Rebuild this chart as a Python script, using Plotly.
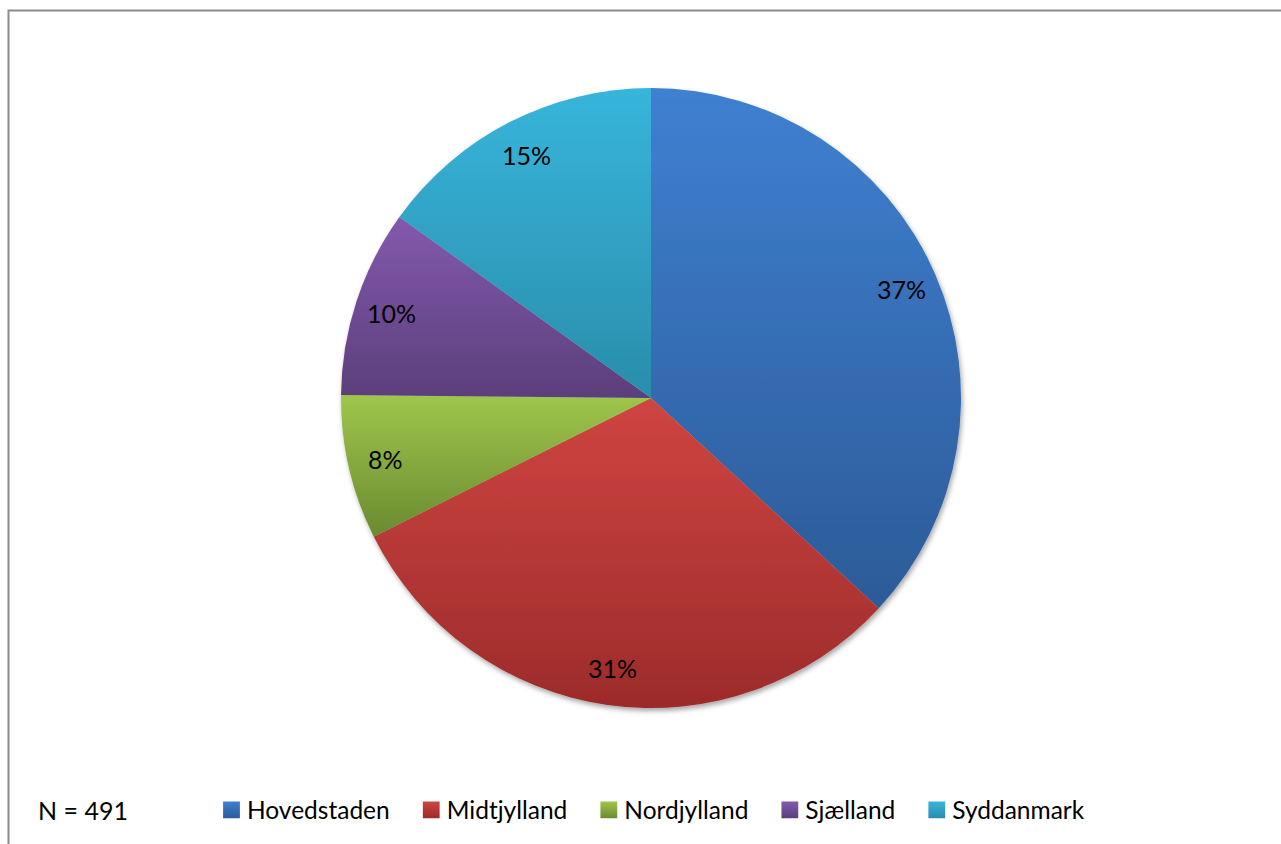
import json
import math
import plotly.graph_objects as go

# Respondents per region (N = 491)
regions = ["Hovedstaden", "Midtjylland", "Nordjylland", "Sjælland", "Syddanmark"]
counts = [181, 151, 37, 48, 74]

# Slice colours: lighter top stop, darker bottom stop (vertical gradient per slice)
colors_top = ["#3F80D1", "#CF4541", "#9FC64C", "#8359AD", "#37B5DB"]
colors_bottom = ["#2C5B98", "#9C2B2B", "#6A8A30", "#5B3F7B", "#2A8DAB"]
colors_mid = ["#366FB6", "#B83837", "#87A93F", "#704D95", "#31A2C4"]

W, H = 1281, 844
CX, CY, R = 651, 398, 310          # pie centre and radius in pixels
LABEL_R = 273                      # radius at which the percentage labels sit
FONT = "Lato, 'Open Sans', sans-serif"

total = sum(counts)

fig = go.Figure(
    go.Pie(
        labels=regions,
        values=counts,
        sort=False,
        direction="clockwise",
        rotation=0,
        textinfo="none",
        hoverinfo="label+value+percent",
        marker=dict(colors=colors_mid, line=dict(width=0)),
        domain=dict(x=[(CX - R) / W, (CX + R) / W],
                    y=[1 - (CY + R) / H, 1 - (CY - R) / H]),
    )
)

# Percentage labels placed at each slice's mid-angle
annotations = []
cum = 0.0
for name, v in zip(regions, counts):
    frac = v / total
    mid = (cum + frac / 2) * 2 * math.pi
    cum += frac
    px = CX + LABEL_R * math.sin(mid)
    py = CY - LABEL_R * math.cos(mid)
    annotations.append(dict(
        x=px / W, y=1 - py / H, xref="paper", yref="paper",
        text=f"{round(frac * 100)}%", showarrow=False,
        font=dict(family=FONT, size=25, color="#000000"),
        xanchor="center", yanchor="middle",
    ))

annotations.append(dict(
    x=36 / W, y=1 - 810 / H, xref="paper", yref="paper",
    text=f"N = {total}", showarrow=False,
    font=dict(family=FONT, size=25, color="#000000"),
    xanchor="left", yanchor="middle",
))

fig.update_layout(
    width=W, height=H,
    margin=dict(l=0, r=0, t=0, b=0),
    paper_bgcolor="#FFFFFF",
    plot_bgcolor="#FFFFFF",
    font=dict(family=FONT, size=24.5, color="#000000"),
    showlegend=True,
    legend=dict(
        orientation="h",
        x=195 / W, xanchor="left",
        y=1 - 810 / H, yanchor="middle",
        font=dict(family=FONT, size=24.5, color="#000000"),
        itemwidth=42,
        bgcolor="rgba(0,0,0,0)",
        itemclick=False, itemdoubleclick=False,
    ),
    annotations=annotations,
    shapes=[dict(
        type="rect", xref="paper", yref="paper",
        x0=8.5 / W, x1=1.02, y0=-0.02, y1=1 - 10.5 / H,
        line=dict(color="#8C8C8C", width=2),
        fillcolor="rgba(0,0,0,0)",
    )],
)

# Vertical gradients on the slices and legend swatches, plus a soft drop shadow
post = """
var gd = document.getElementById('{plot_id}');
var ns = 'http://www.w3.org/2000/svg';
var svg = gd.querySelector('svg.main-svg');
var defs = svg.querySelector('defs');
if (!defs) { defs = document.createElementNS(ns, 'defs'); svg.insertBefore(defs, svg.firstChild); }
var tops = TOPS, bots = BOTS;
for (var i = 0; i < tops.length; i++) {
  var lg = document.createElementNS(ns, 'linearGradient');
  lg.setAttribute('id', 'sliceGrad' + i);
  lg.setAttribute('x1', '0'); lg.setAttribute('y1', '0');
  lg.setAttribute('x2', '0'); lg.setAttribute('y2', '1');
  var s1 = document.createElementNS(ns, 'stop');
  s1.setAttribute('offset', '0'); s1.setAttribute('stop-color', tops[i]);
  var s2 = document.createElementNS(ns, 'stop');
  s2.setAttribute('offset', '1'); s2.setAttribute('stop-color', bots[i]);
  lg.appendChild(s1); lg.appendChild(s2); defs.appendChild(lg);
}
var f = document.createElementNS(ns, 'filter');
f.setAttribute('id', 'pieShadow');
f.setAttribute('x', '-10%'); f.setAttribute('y', '-10%');
f.setAttribute('width', '120%'); f.setAttribute('height', '120%');
var ds = document.createElementNS(ns, 'feDropShadow');
ds.setAttribute('dx', '1.5'); ds.setAttribute('dy', '3');
ds.setAttribute('stdDeviation', '2.5');
ds.setAttribute('flood-color', '#000000'); ds.setAttribute('flood-opacity', '0.35');
f.appendChild(ds); defs.appendChild(f);
var slices = gd.querySelectorAll('.pielayer .slice path.surface');
slices.forEach(function (p, i) { p.style.fill = 'url(#sliceGrad' + i + ')'; });
var pl = gd.querySelector('.pielayer .trace');
if (pl) { pl.setAttribute('filter', 'url(#pieShadow)'); }
var items = gd.querySelectorAll('.legend .traces');
items.forEach(function (t, i) {
  var p = t.querySelector('.legendpoints path');
  var txt = t.querySelector('text.legendtext');
  if (p) {
    var tx = txt ? parseFloat(txt.getAttribute('x')) : 40;
    p.style.fill = 'url(#sliceGrad' + i + ')';
    p.setAttribute('transform', 'translate(' + (tx - 15.5) + ',0) scale(1.4)');
  }
});
""".replace("TOPS", json.dumps(colors_top)).replace("BOTS", json.dumps(colors_bottom))

fig.write_html("out.html", post_script=post, config={"displayModeBar": False})
